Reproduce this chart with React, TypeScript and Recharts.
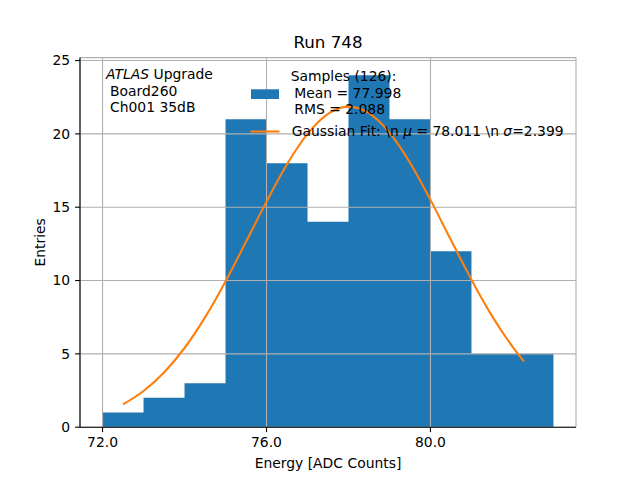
import { Area, CartesianGrid, ComposedChart, Line, XAxis, YAxis } from "recharts";

const binEdges = [72, 73, 74, 75, 76, 77, 78, 79, 80, 81, 82, 83];
const binCounts = [1, 2, 3, 21, 18, 14, 24, 21, 12, 5, 5];

const fitX = [
  72.5, 73, 73.5, 74, 74.5, 75, 75.5, 76, 76.5, 77, 77.5, 78, 78.5, 79, 79.5, 80, 80.5, 81,
  81.5, 82, 82.28,
];
const fitY = [
  1.56, 2.47, 3.73, 5.4, 7.49, 9.94, 12.64, 15.38, 17.93, 20.0, 21.37, 21.86, 21.41, 20.08,
  18.03, 15.5, 12.76, 10.06, 7.59, 5.49, 4.48,
];

const xTicks = [72, 76, 80];
const yTicks = [0, 5, 10, 15, 20, 25];

const FONT = "DejaVu Sans, sans-serif";
const BLUE = "#1f77b4";
const ORANGE = "#ff7f0e";

function binValue(x: number) {
  for (let i = 0; i < binCounts.length; i++) {
    if (x >= binEdges[i] && x < binEdges[i + 1]) return binCounts[i];
  }
  return binCounts[binCounts.length - 1];
}

const allX = Array.from(new Set([...binEdges, ...fitX])).sort((a, b) => a - b);
const rows = allX.map((x) => {
  const k = fitX.indexOf(x);
  return { x, count: binValue(x), fit: k >= 0 ? fitY[k] : undefined };
});

const tickStyle = { fill: "#000", fontSize: 13.9, fontFamily: FONT };

export default function App() {
  return (
    <div style={{ position: "absolute", left: 0, top: 0, width: 640, height: 480, background: "#fff" }}>
      <ComposedChart
        width={640}
        height={480}
        data={rows}
        margin={{ top: 57.6, right: 64, bottom: 0, left: 0 }}
      >
        <XAxis
          type="number"
          dataKey="x"
          domain={[71.45, 83.55]}
          ticks={xTicks}
          tickFormatter={(v: number) => v.toFixed(1)}
          allowDataOverflow
          height={52.8}
          tick={tickStyle}
          tickSize={4.9}
          tickMargin={5}
          axisLine={{ stroke: "#000", strokeWidth: 1.1 }}
          tickLine={{ stroke: "#000", strokeWidth: 1.1 }}
        />
        <XAxis
          xAxisId="top"
          orientation="top"
          type="number"
          dataKey="x"
          domain={[71.45, 83.55]}
          height={0}
          tick={false}
          tickLine={false}
          axisLine={{ stroke: "#000", strokeWidth: 1.1 }}
        />
        <YAxis
          type="number"
          domain={[0, 25.2]}
          ticks={yTicks}
          allowDataOverflow
          width={80}
          tick={tickStyle}
          tickSize={4.9}
          tickMargin={4.9}
          axisLine={{ stroke: "#000", strokeWidth: 1.1 }}
          tickLine={{ stroke: "#000", strokeWidth: 1.1 }}
        />
        <YAxis
          yAxisId="right"
          orientation="right"
          domain={[0, 25.2]}
          width={0}
          tick={false}
          tickLine={false}
          axisLine={{ stroke: "#000", strokeWidth: 1.1 }}
        />
        <Area
          type="stepAfter"
          dataKey="count"
          fill={BLUE}
          fillOpacity={1}
          stroke="none"
          isAnimationActive={false}
        />
        {/* grid sits over the bars, under the fit line, like matplotlib */}
        <CartesianGrid stroke="#b0b0b0" strokeWidth={1.1} zIndex={200} />
        <Line
          type="monotone"
          dataKey="fit"
          stroke={ORANGE}
          strokeWidth={2.1}
          dot={false}
          connectNulls
          isAnimationActive={false}
          zIndex={300}
        />
      </ComposedChart>
      <svg
        width={640}
        height={480}
        style={{ position: "absolute", left: 0, top: 0, pointerEvents: "none" }}
        fontFamily={FONT}
      >
        <text x={328} y={48.3} fontSize={16.7} textAnchor="middle">
          Run 748
        </text>
        <text x={328} y={468} fontSize={13.9} textAnchor="middle">
          Energy [ADC Counts]
        </text>
        <text x={45} y={242.4} fontSize={13.9} textAnchor="middle" transform="rotate(-90 45 242.4)">
          Entries
        </text>

        <text x={106} y={78.5} fontSize={13.9}>
          <tspan fontStyle="italic">ATLAS</tspan> Upgrade
        </text>
        <text x={110} y={95.5} fontSize={13.9}>
          Board260
        </text>
        <text x={110} y={112} fontSize={13.9}>
          Ch001 35dB
        </text>

        <rect x={251} y={89.3} width={28} height={9.7} fill={BLUE} />
        <text x={290.7} y={81} fontSize={13.9}>
          Samples (126):
        </text>
        <text x={294.3} y={97.5} fontSize={13.9}>
          Mean = 77.998
        </text>
        <text x={294.3} y={114} fontSize={13.9}>
          RMS = 2.088
        </text>
        <line x1={250.5} y1={131.5} x2={279.5} y2={131.5} stroke={ORANGE} strokeWidth={2.1} />
        <text x={291.7} y={136.3} fontSize={13.9} xmlSpace="preserve">
          {"Gaussian Fit: \\n "}
          <tspan fontStyle="italic">μ</tspan>
          {" = 78.011 \\n "}
          <tspan fontStyle="italic">σ</tspan>
          {"=2.399"}
        </text>
      </svg>
    </div>
  );
}
